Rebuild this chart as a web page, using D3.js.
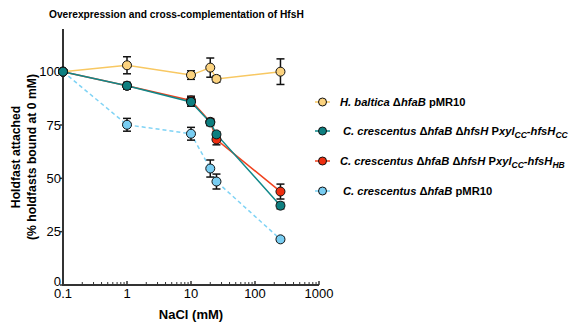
<!DOCTYPE html>
<html lang="en">
<head>
<meta charset="UTF-8">
<title>Overexpression and cross-complementation of HfsH</title>
<script src="https://d3js.org/d3.v7.min.js"></script>
<style>
  body { margin: 0; background: #fff; }
  svg { font-family: Arial, "Liberation Sans", sans-serif; }
</style>
</head>
<body>
<svg width="573" height="322"></svg>
<script>
// NaCl concentrations (mM); 0 mM is plotted at 0.1 on the log axis
const nacl = [0.1, 1, 10, 20, 25, 250];

const hbaltica     = [100, 103, 98.4, 101.9, 96.6, 100];
const hbalticaErr  = [0.8, 4, 2, 4.5, 1.5, 6];
const ccHfsCC      = [100, 93.4, 85.8, 76.2, 70.6, 37.2];
const ccHfsCCErr   = [0.8, 1.5, 2, 1.5, 1.2, 1.5];
const ccHfsHB      = [100, 93.4, 86.5, 76.5, 68.2, 43.8];
const ccHfsHBErr   = [0.8, 1.5, 2, 1.5, 2.5, 3.5];
const ccPMR        = [100, 75.1, 70.9, 54.6, 48.5, 21.4];
const ccPMRErr     = [0.8, 3, 3, 4, 3.5, 1];

const yTicks = [0, 25, 50, 75, 100];
const xTicks = [0.1, 1, 10, 100, 1000];

const series = [
  {vals: hbaltica, err: hbalticaErr, line: "#f8c862", fill: "#fbd27e", dash: null},
  {vals: ccHfsCC, err: ccHfsCCErr, line: "#10888a", fill: "#0d7f80", dash: null},
  {vals: ccHfsHB, err: ccHfsHBErr, line: "#f0421e", fill: "#ee2e10", dash: null},
  {vals: ccPMR, err: ccPMRErr, line: "#7fd3f5", fill: "#78cdf2", dash: "4,3"}
];
// draw order: blue under, then yellow, red, teal
const drawOrder = [3, 0, 2, 1];

const svg = d3.select("svg");

const x = d3.scaleLog().domain([0.1, 1000]).range([63, 319]);
const y = d3.scaleLinear().domain([0, 120]).range([285, 29]);

// title
svg.append("text")
  .attr("x", 49).attr("y", 18)
  .attr("font-size", 10.2).attr("font-weight", "bold")
  .text("Overexpression and cross-complementation of HfsH");

// x axis with inward ticks
const minor = [];
for (let e = -1; e < 3; e++) {
  for (let k = 2; k <= 9; k++) minor.push(k * Math.pow(10, e));
}
const gx = svg.append("g").attr("transform", "translate(0,285)");
gx.append("line").attr("x1", 62).attr("x2", x(1000)).attr("stroke", "#333").attr("stroke-width", 2);
gx.selectAll(".minor").data(minor).enter().append("line")
  .attr("x1", d => x(d)).attr("x2", d => x(d))
  .attr("y1", 0).attr("y2", -3)
  .attr("stroke", "#333").attr("stroke-width", 1);
gx.selectAll(".major").data(xTicks.slice(1)).enter().append("line")
  .attr("x1", d => x(d)).attr("x2", d => x(d))
  .attr("y1", 0).attr("y2", -4)
  .attr("stroke", "#333").attr("stroke-width", 1.5);
gx.selectAll(".lbl").data(xTicks).enter().append("text")
  .attr("x", d => x(d)).attr("y", 13)
  .attr("text-anchor", "middle").attr("font-size", 13)
  .text(d => d);

// y axis
const gy = svg.append("g").attr("transform", "translate(63,0)");
gy.append("line").attr("y1", y(120)).attr("y2", 286).attr("stroke", "#333").attr("stroke-width", 2);
gy.selectAll(".yt").data(yTicks).enter().append("line")
  .attr("x1", -3).attr("x2", 0)
  .attr("y1", d => y(d)).attr("y2", d => y(d))
  .attr("stroke", "#333").attr("stroke-width", 1.5);
gy.selectAll(".yl").data(yTicks).enter().append("text")
  .attr("x", -2).attr("y", d => d === 0 ? y(d) + 1 : y(d) + 4.5)
  .attr("text-anchor", "end").attr("font-size", 13)
  .text(d => d);

// axis labels
svg.append("text")
  .attr("x", 191).attr("y", 319)
  .attr("text-anchor", "middle").attr("font-size", 13).attr("font-weight", "bold")
  .text("NaCl (mM)");
const yl = svg.append("text")
  .attr("transform", "translate(20,157) rotate(-90)")
  .attr("text-anchor", "middle").attr("font-size", 12.2).attr("font-weight", "bold");
yl.append("tspan").attr("x", 0).attr("y", 0).text("Holdfast attached");
yl.append("tspan").attr("x", 0).attr("y", 16).text("(% holdfasts bound at 0 mM)");

// series
const line = d3.line().x(d => x(d[0])).y(d => y(d[1]));
drawOrder.forEach(i => {
  const s = series[i];
  const pts = nacl.map((n, j) => [n, s.vals[j], s.err[j]]);
  svg.append("path")
    .attr("d", line(pts))
    .attr("fill", "none").attr("stroke", s.line).attr("stroke-width", 1.5)
    .attr("stroke-dasharray", s.dash);
});
drawOrder.forEach(i => {
  const s = series[i];
  const pts = nacl.map((n, j) => [n, s.vals[j], s.err[j]]);
  const g = svg.append("g");
  const eb = g.selectAll(".eb").data(pts).enter().append("g");
  eb.append("line")
    .attr("x1", d => x(d[0])).attr("x2", d => x(d[0]))
    .attr("y1", d => y(d[1] - d[2])).attr("y2", d => y(d[1] + d[2]))
    .attr("stroke", "#111").attr("stroke-width", 1.5);
  [-1, 1].forEach(sg => {
    eb.append("line")
      .attr("x1", d => x(d[0]) - 4).attr("x2", d => x(d[0]) + 4)
      .attr("y1", d => y(d[1] + sg * d[2])).attr("y2", d => y(d[1] + sg * d[2]))
      .attr("stroke", "#111").attr("stroke-width", 1.5);
  });
  g.selectAll("circle").data(pts).enter().append("circle")
    .attr("cx", d => x(d[0])).attr("cy", d => y(d[1])).attr("r", 4.5)
    .attr("fill", s.fill).attr("stroke", "#111").attr("stroke-width", 1);
});

// legend
const legendY = [102, 131, 161, 191];
const lg = svg.append("g");
series.forEach((s, i) => {
  const ly = legendY[i];
  lg.append("line").attr("x1", 315).attr("x2", 330).attr("y1", ly).attr("y2", ly)
    .attr("stroke", s.line).attr("stroke-width", 1.5);
  lg.append("circle").attr("cx", 322.5).attr("cy", ly).attr("r", 4)
    .attr("fill", s.fill).attr("stroke", "#111").attr("stroke-width", 1);
});

function legendText(xp, ly, parts) {
  const t = lg.append("text").attr("x", xp).attr("y", ly + 4)
    .attr("font-size", 11.2).attr("font-weight", "bold");
  parts.forEach(p => {
    const ts = t.append("tspan").text(p.t);
    if (p.i) ts.attr("font-style", "italic");
    if (p.sub) ts.attr("baseline-shift", "-3").attr("font-size", 8.5).attr("font-style", "italic");
  });
}
legendText(340, legendY[0], [
  {t: "H. baltica ", i: true}, {t: "Δ"}, {t: "hfaB", i: true}, {t: " pMR10"}
]);
legendText(343, legendY[1], [
  {t: "C. crescentus ", i: true}, {t: "Δ"}, {t: "hfaB ", i: true}, {t: "Δ"}, {t: "hfsH ", i: true},
  {t: "P"}, {t: "xyl", i: true}, {t: "CC", sub: true}, {t: "-"}, {t: "hfsH", i: true}, {t: "CC", sub: true}
]);
legendText(340, legendY[2], [
  {t: "C. crescentus ", i: true}, {t: "Δ"}, {t: "hfaB ", i: true}, {t: "Δ"}, {t: "hfsH ", i: true},
  {t: "P"}, {t: "xyl", i: true}, {t: "CC", sub: true}, {t: "-"}, {t: "hfsH", i: true}, {t: "HB", sub: true}
]);
legendText(343, legendY[3], [
  {t: "C. crescentus ", i: true}, {t: "Δ"}, {t: "hfaB", i: true}, {t: " pMR10"}
]);
</script>
</body>
</html>
